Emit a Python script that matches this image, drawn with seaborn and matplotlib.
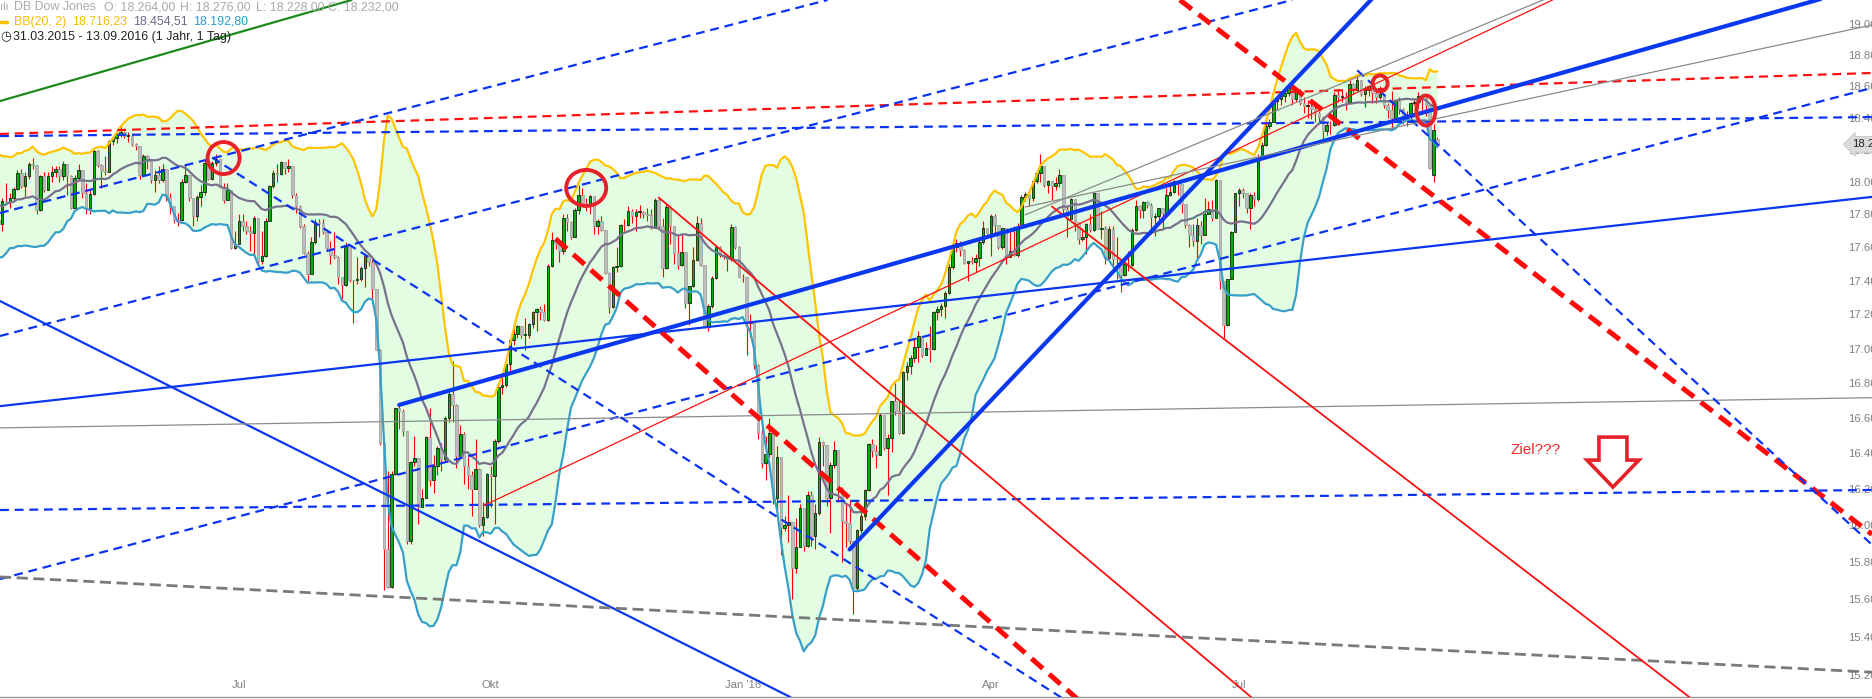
import numpy as np
import pandas as pd
import matplotlib
matplotlib.use("Agg")
import matplotlib.pyplot as plt
import matplotlib.transforms as mtransforms
from matplotlib.patches import Ellipse, Polygon
from matplotlib.lines import Line2D
from matplotlib.ticker import FixedLocator, FixedFormatter, NullLocator, NullFormatter
import seaborn as sns

# ---------------- data (daily candles, business days) ----------------
FIRST_DAY = "2015-03-02"
LAST_DAY = "2016-09-13"

OPEN = [
    18133, 18288, 18203, 18097, 18136, 17856, 17995, 17662, 17635, 17895, 17749, 17977, 17849, 18076, 17959, 18127, 18116, 18011, 17718, 17678, 17712, 17976,
    17776, 17698, 17763, 17740, 17880, 17875, 17902, 17958, 18057, 17977, 18036, 18113, 18106, 17826, 18034, 17950, 18038, 18058, 18080, 18038, 18110, 18035,
    17841, 18024, 18070, 17928, 17842, 17924, 18191, 18105, 18068, 18060, 18252, 18272, 18298, 18312, 18285, 18285, 18232, 18220, 18041, 18162, 18126,
    18011, 18040, 18011, 18076, 17905, 17849, 17766, 17764, 18000, 18039, 17898, 17791, 17904, 17935, 18115, 18015, 18119, 18144, 17966, 17890, 17947, 17596,
    17620, 17758, 17730, 17700, 17684, 17776, 17515, 17548, 17760, 17977, 18054, 18050, 18120, 18086, 18100, 17919, 17851, 17731, 17569, 17441, 17631, 17751, 17746,
    17690, 17599, 17551, 17541, 17420, 17373, 17615, 17403, 17402, 17409, 17477, 17546, 17512, 17349, 16991, 16460, 15871, 15666, 16285, 16655, 16643,
    16528, 15916, 16351, 16375, 16102, 16150, 16493, 16254, 16330, 16433, 16370, 16599, 16740, 16675, 16385, 16511, 16330, 16280, 16201, 16315, 16001, 16049,
    16285, 16272, 16472, 16777, 16790, 16912, 17050, 17084, 17131, 17081, 17081, 17141, 17216, 17230, 17217, 17169, 17489, 17646, 17623, 17581, 17780, 17755,
    17663, 17828, 17918, 17867, 17863, 17910, 17730, 17758, 17702, 17448, 17245, 17484, 17489, 17737, 17733, 17823, 17792, 17812, 17813, 17800, 17798,
    17720, 17888, 17730, 17478, 17848, 17730, 17568, 17493, 17575, 17265, 17368, 17525, 17750, 17495, 17128, 17252, 17418, 17603, 17553, 17550, 17528, 17721, 17603,
    17425, 17420, 17149, 17159, 16907, 16515, 16347, 16399, 16517, 16152, 16380, 15988, 16000, 16017, 15767, 15883, 16094, 15886, 16167, 15945, 16070,
    16466, 16449, 16154, 16337, 16417, 16205, 16027, 16014, 15915, 15660, 15974, 16050, 16196, 16454, 16414, 16392, 16620, 16432, 16485, 16698, 16640,
    16517, 16866, 16900, 16944, 17007, 17074, 16964, 17001, 16996, 17214, 17230, 17251, 17326, 17482, 17603, 17624, 17583, 17503, 17516, 17510, 17536, 17634, 17717,
    17685, 17793, 17738, 17603, 17717, 17542, 17577, 17556, 17722, 17909, 17927, 17898, 18004, 18053, 18096, 17983, 18004, 17977, 17991, 18042, 17831,
    17774, 17892, 17751, 17652, 17661, 17740, 17706, 17928, 17711, 17720, 17535, 17711, 17530, 17527, 17436, 17501, 17493, 17706, 17852, 17829, 17873, 17860,
    17787, 17790, 17838, 17807, 17920, 17938, 18006, 17985, 17865, 17733, 17675, 17640, 17733, 17675, 17805, 17830, 17780, 18011, 17400, 17140, 17410, 17695,
    17930, 17949, 17930, 17841, 17919, 17896, 18147, 18227, 18348, 18373, 18507, 18517, 18534, 18559, 18595, 18518, 18571, 18494, 18473, 18473, 18456,
    18432, 18404, 18314, 18355, 18353, 18544, 18529, 18534, 18496, 18613, 18577, 18636, 18552, 18574, 18598, 18553, 18530, 18548, 18482, 18449, 18395, 18503, 18454,
    18401, 18419, 18492, 18500, 18539, 18526, 18480, 18040, 18264,
]
HIGH = [
    18300, 18290, 18210, 18170, 18140, 18020, 17995, 17750, 17910, 17900, 17990, 17980, 18100, 18090, 18200, 18170, 18140, 18040, 17790, 17780, 17990, 17980,
    17830, 17790, 17780, 17900, 17990, 17930, 17970, 18070, 18080, 18060, 18120, 18150, 18106, 18040, 18060, 18060, 18100, 18100, 18100, 18130, 18110, 18040,
    18040, 18110, 18070, 17990, 17950, 18200, 18195, 18110, 18160, 18260, 18275, 18305, 18351, 18315, 18310, 18290, 18240, 18225, 18170, 18165, 18130,
    18070, 18100, 18110, 18080, 17930, 17850, 17810, 18020, 18110, 18040, 17900, 17920, 17980, 18140, 18120, 18130, 18170, 18144, 17990, 17990, 17947, 17700,
    17800, 17800, 17760, 17730, 17790, 17776, 17700, 17780, 17980, 18070, 18110, 18130, 18120, 18140, 18100, 17930, 17860, 17740, 17580, 17660, 17770, 17770, 17770,
    17700, 17640, 17690, 17550, 17420, 17630, 17615, 17403, 17540, 17490, 17560, 17560, 17530, 17350, 17000, 16460, 16300, 16300, 16660, 16670, 16650,
    16528, 16360, 16500, 16375, 16200, 16500, 16660, 16390, 16440, 16460, 16610, 16760, 16930, 16680, 16560, 16520, 16380, 16300, 16480, 16320, 16130, 16290,
    16330, 16480, 16800, 16860, 16920, 17060, 17150, 17140, 17131, 17180, 17150, 17220, 17240, 17250, 17260, 17500, 17690, 17660, 17640, 17800, 17800, 17760,
    17840, 17980, 17960, 17900, 17920, 17910, 17770, 17790, 17702, 17450, 17490, 17600, 17740, 17770, 17850, 17830, 17830, 17860, 17820, 17840, 17830,
    17900, 17900, 17780, 17870, 17850, 17730, 17680, 17680, 17575, 17370, 17600, 17790, 17780, 17495, 17260, 17430, 17610, 17610, 17560, 17560, 17740, 17730, 17610,
    17440, 17420, 17200, 17160, 16910, 16600, 16500, 16600, 16530, 16440, 16380, 16050, 16170, 16020, 16040, 16120, 16094, 16190, 16190, 16120, 16490,
    16470, 16449, 16350, 16470, 16420, 16210, 16120, 16140, 15915, 15980, 16080, 16200, 16460, 16480, 16450, 16630, 16620, 16510, 16700, 16800, 16700,
    16870, 16920, 16960, 17060, 17100, 17074, 17040, 17130, 17220, 17250, 17270, 17340, 17500, 17620, 17650, 17640, 17590, 17520, 17540, 17560, 17650, 17760, 17720,
    17800, 17800, 17738, 17720, 17717, 17720, 17730, 17750, 17920, 17940, 17927, 18009, 18060, 18170, 18100, 18010, 18004, 18030, 18080, 18042, 17850,
    17900, 17892, 17751, 17720, 17750, 17800, 17930, 17928, 17820, 17730, 17730, 17730, 17660, 17530, 17530, 17580, 17720, 17890, 17860, 17880, 17880, 17870,
    17810, 17840, 17840, 17960, 18000, 18010, 18006, 17985, 17865, 17740, 17740, 17780, 17760, 17900, 17880, 17890, 18020, 18011, 17400, 17410, 17700, 17930,
    17960, 17960, 17930, 17930, 17940, 18170, 18250, 18370, 18390, 18510, 18540, 18550, 18560, 18620, 18610, 18580, 18580, 18530, 18510, 18500, 18480,
    18440, 18410, 18370, 18380, 18560, 18580, 18580, 18560, 18640, 18620, 18670, 18640, 18600, 18610, 18600, 18570, 18600, 18550, 18490, 18570, 18510, 18530, 18460,
    18440, 18500, 18520, 18560, 18540, 18530, 18480, 18360, 18276,
]
LOW = [
    18120, 18150, 18040, 18060, 17830, 17850, 17650, 17620, 17630, 17730, 17740, 17800, 17820, 17930, 17950, 18090, 18000, 17710, 17620, 17660, 17710, 17770,
    17680, 17680, 17700, 17700, 17870, 17840, 17880, 17950, 17960, 17910, 18020, 18080, 17800, 17820, 17940, 17950, 18000, 18030, 18000, 18010, 17920, 17830,
    17840, 18010, 17900, 17800, 17800, 17920, 18090, 17960, 18040, 18060, 18230, 18240, 18280, 18270, 18250, 18220, 18200, 18020, 18040, 18080, 17990,
    17940, 17990, 18000, 17880, 17800, 17750, 17730, 17760, 17990, 17880, 17730, 17760, 17850, 17920, 18010, 18010, 18100, 17960, 17870, 17890, 17590, 17590,
    17620, 17700, 17680, 17580, 17560, 17500, 17500, 17540, 17760, 17960, 18000, 18040, 18050, 18060, 17900, 17810, 17720, 17560, 17400, 17440, 17620, 17660, 17680,
    17580, 17500, 17530, 17380, 17290, 17370, 17390, 17150, 17380, 17400, 17360, 17490, 17280, 16990, 16450, 15650, 15660, 15660, 16280, 16540, 16500,
    15900, 15900, 16330, 16010, 16100, 16150, 16220, 16180, 16280, 16300, 16360, 16580, 16580, 16320, 16370, 16230, 16200, 16050, 16200, 15990, 15940, 16040,
    16100, 16010, 16460, 16740, 16780, 16870, 17020, 17060, 17060, 16990, 17060, 17120, 17100, 17170, 17160, 17160, 17480, 17590, 17510, 17560, 17700, 17650,
    17660, 17800, 17850, 17820, 17800, 17680, 17680, 17700, 17440, 17210, 17240, 17450, 17480, 17700, 17730, 17750, 17700, 17780, 17780, 17760, 17710,
    17720, 17720, 17420, 17470, 17620, 17500, 17470, 17490, 17240, 17140, 17360, 17520, 17490, 17120, 17100, 17240, 17410, 17540, 17530, 17460, 17520, 17590, 17420,
    17390, 16960, 17070, 16880, 16480, 16320, 16250, 16380, 16120, 16080, 15840, 15970, 15910, 15600, 15740, 15880, 15860, 15880, 15890, 15870, 16060,
    16330, 16110, 15960, 16320, 16130, 15800, 15880, 15900, 15520, 15650, 15960, 16030, 16190, 16380, 16320, 16390, 16420, 16170, 16410, 16620, 16510,
    16510, 16820, 16850, 16920, 16920, 16950, 16960, 16920, 16990, 17170, 17190, 17180, 17320, 17470, 17570, 17550, 17500, 17400, 17500, 17450, 17490, 17620, 17680,
    17550, 17680, 17590, 17590, 17500, 17540, 17550, 17540, 17720, 17880, 17850, 17880, 17990, 18000, 17970, 17930, 17890, 17950, 17970, 17810, 17660,
    17770, 17700, 17620, 17640, 17560, 17690, 17700, 17710, 17650, 17500, 17530, 17490, 17410, 17330, 17430, 17460, 17490, 17700, 17780, 17780, 17840, 17680,
    17670, 17750, 17710, 17800, 17910, 17930, 17920, 17810, 17720, 17600, 17610, 17520, 17620, 17675, 17800, 17760, 17780, 17350, 17060, 17130, 17410, 17690,
    17850, 17900, 17810, 17710, 17850, 17880, 18140, 18220, 18330, 18370, 18450, 18480, 18500, 18540, 18480, 18500, 18480, 18430, 18400, 18390, 18370,
    18360, 18260, 18290, 18300, 18350, 18500, 18500, 18450, 18490, 18550, 18570, 18540, 18470, 18540, 18490, 18490, 18520, 18460, 18400, 18320, 18390, 18420, 18360,
    18350, 18390, 18480, 18460, 18450, 18410, 18080, 18000, 18228,
]
CLOSE = [
    18288, 18203, 18097, 18136, 17856, 17995, 17662, 17635, 17895, 17749, 17977, 17849, 18076, 17959, 18127, 18116, 18011, 17718, 17678, 17712, 17976, 17776,
    17698, 17763, 17740, 17880, 17875, 17902, 17958, 18057, 17977, 18036, 18113, 18106, 17826, 18034, 17950, 18038, 18058, 18080, 18038, 18110, 18035, 17841,
    18024, 18070, 17928, 17842, 17924, 18191, 18105, 18068, 18060, 18252, 18272, 18298, 18312, 18285, 18285, 18232, 18220, 18041, 18162, 18126, 18011,
    18040, 18011, 18076, 17905, 17849, 17766, 17764, 18000, 18039, 17898, 17791, 17904, 17935, 18115, 18015, 18119, 18144, 17966, 17890, 17947, 17596, 17620,
    17758, 17730, 17700, 17684, 17776, 17515, 17548, 17760, 17977, 18054, 18050, 18120, 18086, 18100, 17919, 17851, 17731, 17569, 17441, 17631, 17751, 17746, 17690,
    17599, 17551, 17541, 17420, 17373, 17615, 17403, 17402, 17409, 17477, 17546, 17512, 17349, 16991, 16460, 15871, 15666, 16285, 16655, 16643, 16528,
    15916, 16351, 16375, 16102, 16150, 16493, 16254, 16330, 16433, 16370, 16599, 16740, 16675, 16385, 16511, 16330, 16280, 16201, 16315, 16001, 16049, 16285,
    16272, 16472, 16777, 16790, 16912, 17050, 17084, 17131, 17081, 17081, 17141, 17216, 17230, 17217, 17169, 17489, 17646, 17623, 17581, 17780, 17755, 17663,
    17828, 17918, 17867, 17863, 17910, 17730, 17758, 17702, 17448, 17245, 17484, 17489, 17737, 17733, 17823, 17792, 17812, 17813, 17800, 17798, 17720,
    17888, 17730, 17478, 17848, 17730, 17568, 17493, 17575, 17265, 17368, 17525, 17750, 17495, 17128, 17252, 17418, 17603, 17553, 17550, 17528, 17721, 17603, 17425,
    17420, 17149, 17159, 16907, 16515, 16347, 16399, 16517, 16152, 16380, 15988, 16000, 16017, 15767, 15883, 16094, 15886, 16167, 15945, 16070, 16466,
    16449, 16154, 16337, 16417, 16205, 16027, 16014, 15915, 15660, 15974, 16050, 16196, 16454, 16414, 16392, 16620, 16432, 16485, 16698, 16640, 16517,
    16866, 16900, 16944, 17007, 17074, 16964, 17001, 16996, 17214, 17230, 17251, 17326, 17482, 17603, 17624, 17583, 17503, 17516, 17510, 17536, 17634, 17717, 17685,
    17793, 17738, 17603, 17717, 17542, 17577, 17556, 17722, 17909, 17927, 17898, 18004, 18053, 18096, 17983, 18004, 17977, 17991, 18042, 17831, 17774,
    17892, 17751, 17652, 17661, 17740, 17706, 17928, 17711, 17720, 17535, 17711, 17530, 17527, 17436, 17501, 17493, 17706, 17852, 17829, 17873, 17860, 17787,
    17790, 17838, 17807, 17920, 17938, 18006, 17985, 17865, 17733, 17675, 17640, 17733, 17675, 17805, 17830, 17780, 18011, 17400, 17140, 17410, 17695, 17930,
    17949, 17930, 17841, 17919, 17896, 18147, 18227, 18348, 18373, 18507, 18517, 18534, 18559, 18595, 18518, 18571, 18494, 18473, 18473, 18456, 18432,
    18404, 18314, 18355, 18353, 18544, 18529, 18534, 18496, 18613, 18577, 18636, 18552, 18574, 18598, 18553, 18530, 18548, 18482, 18449, 18395, 18503, 18454, 18401,
    18419, 18492, 18500, 18539, 18526, 18480, 18085, 18325, 18232,
]

BB_PERIOD = 20
BB_WIDTH = 2

Y_TICKS = [15200, 15400, 15600, 15800, 16000, 16200, 16400, 16600, 16800, 17000,
           17200, 17400, 17600, 17800, 18000, 18200, 18400, 18600, 18800, 19000]
X_TICK_DATES = ["2015-07-01", "2015-10-01", "2016-01-01", "2016-04-01", "2016-07-01"]
X_TICK_LABELS = ["Jul", "Okt", "Jan '16", "Apr", "Jul"]

# drawn trend lines: (date1, price1, date2, price2, style)
INFINITE_LINES = [
    ("2015-04-03", 18502, "2015-08-03", 19110, "green"),
    ("2015-04-03", 18284, "2017-01-02", 18395, "blue_dash"),
    ("2015-04-03", 18297, "2017-01-02", 18656, "red_dash"),
    ("2015-04-03", 17806, "2015-08-03", 18329, "blue_dash"),
    ("2015-04-03", 17071, "2015-12-07", 18124, "blue_dash"),
    ("2015-04-03", 15707, "2016-09-12", 17870, "blue_dash"),
    ("2016-06-10", 19148, "2017-01-30", 16193, "red_thick_dash"),
    ("2015-04-03", 16667, "2017-01-02", 17816, "blue"),
    ("2015-04-03", 17284, "2015-12-07", 15401, "blue"),
    ("2015-04-03", 16085, "2017-01-02", 16188, "blue_dash"),
    ("2015-04-03", 16544, "2017-01-02", 16704, "grey"),
    ("2015-04-03", 15721, "2017-01-02", 15251, "grey_dash"),
]
SEGMENT_LINES = [
    ("2015-06-22", 18150, "2016-05-09", 14990, "blue_dash"),
    ("2016-08-15", 18701, "2017-03-13", 15608, "blue_dash"),
    ("2015-10-26", 17651, "2016-05-09", 15019, "red_thick_dash"),
    ("2015-12-02", 17903, "2016-07-11", 15040, "red"),
    ("2016-04-25", 17848, "2016-12-19", 15041, "red"),
    ("2015-09-29", 16108, "2016-11-07", 19262, "red_thin"),
    ("2015-08-28", 16675, "2017-02-13", 19225, "blue_thick"),
    ("2016-02-10", 15869, "2016-08-22", 19195, "blue_thick"),
    ("2016-04-14", 17797, "2016-11-07", 19275, "grey"),
    ("2016-04-14", 17845, "2017-02-27", 19021, "grey"),
]
# red circles: (date, price, width px, height px)
CIRCLES = [
    ("2015-06-25", 18147, 32, 32),
    ("2015-11-05", 17962, 40, 36),
    ("2016-08-23", 18617, 15, 16),
    ("2016-09-08", 18445, 19, 30),
]
TARGET = ("2016-11-16", 16212)   # tip of the "Ziel???" arrow
LAST_PRICE = 18232

STYLES = {
    "green": dict(color="#1a8a1a", lw=1.6, ls="-"),
    "blue_dash": dict(color="#0b33f2", lw=1.6, ls=(0, (4, 2.6))),
    "red_dash": dict(color="#ff1010", lw=1.6, ls=(0, (4, 2.6))),
    "red_thick_dash": dict(color="#ff0a0a", lw=3.6, ls=(0, (3, 1.7))),
    "blue_thick": dict(color="#0a37f0", lw=3.0, ls="-"),
    "blue": dict(color="#0a37f0", lw=1.6, ls="-"),
    "red": dict(color="#ff1010", lw=1.3, ls="-"),
    "red_thin": dict(color="#ff1010", lw=0.9, ls="-"),
    "grey": dict(color="#8a8a8a", lw=0.9, ls="-"),
    "grey_dash": dict(color="#7a7a7a", lw=2.0, ls=(0, (4, 2))),
}

# ---------------- figure ----------------
sns.set_style("white")
plt.rcParams["font.family"] = ["Liberation Sans", "DejaVu Sans"]

W, H = 1872, 699
fig = plt.figure(figsize=(W / 100, H / 100), dpi=100)
ax = fig.add_axes([0, 2 / H, 1, 1 - 2 / H])


def xpos(d):
    return float(np.busday_count(FIRST_DAY, d))


dates = pd.bdate_range(FIRST_DAY, LAST_DAY)
n = len(dates)
assert n == len(OPEN) == len(HIGH) == len(LOW) == len(CLOSE), (n, len(OPEN), len(HIGH), len(LOW), len(CLOSE))
df = pd.DataFrame({"x": np.arange(n, dtype=float), "o": OPEN, "h": HIGH, "l": LOW, "c": CLOSE})
mid = df["c"].rolling(BB_PERIOD).mean()
sd = df["c"].rolling(BB_PERIOD).std(ddof=0)
df["mid"] = mid
df["upper"] = mid + BB_WIDTH * sd
df["lower"] = mid - BB_WIDTH * sd

ax.set_yscale("log")
bb = df.dropna()
ax.fill_between(bb["x"], bb["lower"], bb["upper"], color="#e2fde2", lw=0, zorder=1)

# candles
ax.vlines(df["x"], df["l"], df["h"], color="#ff0000", lw=0.8, zorder=3)
up = df[df["c"] >= df["o"]]
dn = df[df["c"] < df["o"]]
ax.bar(up["x"], (up["c"] - up["o"]).clip(lower=6), bottom=up["o"], width=0.66,
       color="#00b000", edgecolor="#000000", lw=0.5, zorder=4)
ax.bar(dn["x"], dn["c"] - dn["o"], bottom=dn["o"], width=0.66,
       color="#bdbdbd", edgecolor="#9a9a9a", lw=0.5, zorder=4)

# Bollinger bands
sns.lineplot(data=bb, x="x", y="upper", ax=ax, color="#ffc400", lw=1.6, zorder=5, estimator=None)
sns.lineplot(data=bb, x="x", y="mid", ax=ax, color="#77718c", lw=1.6, zorder=5, estimator=None)
sns.lineplot(data=bb, x="x", y="lower", ax=ax, color="#38a0c8", lw=1.6, zorder=5, estimator=None)

# trend lines
for d1, p1, d2, p2, st in INFINITE_LINES:
    ax.axline((xpos(d1), p1), (xpos(d2), p2), zorder=6, **STYLES[st])
for d1, p1, d2, p2, st in SEGMENT_LINES:
    ax.plot([xpos(d1), xpos(d2)], [p1, p2], zorder=6, **STYLES[st])


def at_data(xd, yd):
    return fig.dpi_scale_trans + mtransforms.ScaledTranslation(xd, yd, ax.transData)


for d, p, w, h in CIRCLES:
    ax.add_patch(Ellipse((0, 0), w / 100, h / 100, transform=at_data(xpos(d), p),
                         fill=False, ec="#e8202a", lw=2.8, zorder=8))

tx, ty = xpos(TARGET[0]), TARGET[1]
arrow = [(-0.14, 0.50), (0.14, 0.50), (0.14, 0.27), (0.26, 0.27), (0, 0), (-0.26, 0.27), (-0.14, 0.27)]
ax.add_patch(Polygon(arrow, closed=True, transform=at_data(tx, ty), fc="white", ec="#e8202a",
                     lw=2.6, joinstyle="miter", zorder=8))
ax.annotate("Ziel???", xy=(tx, ty), xytext=(-102, 37), textcoords="offset pixels",
            ha="left", va="center", color="#ee2a2a", fontsize=11, zorder=9)

# axes
ax.set_xlim(24.42, 514.87)
ax.set_ylim(15086.8, 19156.9)
ax.set_xlabel("")
ax.set_ylabel("")
ax.yaxis.tick_right()
ax.yaxis.set_major_locator(FixedLocator(Y_TICKS))
ax.yaxis.set_major_formatter(FixedFormatter([f"{v:,}".replace(",", ".") for v in Y_TICKS]))
ax.yaxis.set_minor_locator(NullLocator())
ax.yaxis.set_minor_formatter(NullFormatter())
ax.tick_params(axis="y", which="both", length=0, pad=-17.3, labelsize=8.2, labelcolor="#808080")
ax.set_xticks([xpos(d) for d in X_TICK_DATES], X_TICK_LABELS)
ax.tick_params(axis="x", direction="in", length=4, width=1, color="#999999", pad=-12.5,
               labelsize=8.2, labelcolor="#808080")
for s in ["top", "left", "right"]:
    ax.spines[s].set_visible(False)
ax.spines["bottom"].set_color("#999999")
ax.spines["bottom"].set_linewidth(1)
ax.grid(False)

ax.annotate(f"{LAST_PRICE:,}".replace(",", "."), xy=(1, LAST_PRICE), xycoords=("axes fraction", "data"),
            xytext=(-20, 0), textcoords="offset pixels", ha="left", va="center", fontsize=8.2,
            color="#222222", annotation_clip=False, zorder=10,
            bbox=dict(boxstyle="larrow,pad=0.25", fc="#dcdcdc", ec="#cccccc", lw=0.8))


# header
def htext(xp, yp, s, color, size=8.9, **kw):
    fig.text(xp / W, 1 - yp / H, s, ha="left", va="center", color=color, fontsize=size, **kw)


grey = "#aaaaaa"
htext(0, 7, "ılı", grey, size=8)
htext(14, 7, "DB Dow Jones", grey)
htext(104, 7, "O: 18.264,00", grey)
htext(180, 7, "H: 18.276,00", grey)
htext(256, 7, "L: 18.228,00", grey)
htext(328, 7, "C: 18.232,00", grey)
fig.add_artist(Line2D([0, 7 / W], [1 - 22 / H, 1 - 22 / H], transform=fig.transFigure, color="#f5be00", lw=2.5))
htext(14, 22, "BB(20, 2)", "#f5be00")
htext(72, 22, "18.716,23", "#f5be00")
htext(133, 22, "18.454,51", "#6d6888")
htext(193, 22, "18.192,80", "#2a9bd0")
htext(0, 37, "◷", "#222222", size=9, family=["DejaVu Sans"])
htext(13, 37, "31.03.2015 - 13.09.2016 (1 Jahr, 1 Tag)", "#222222")

fig.savefig("out.png", dpi=100)
